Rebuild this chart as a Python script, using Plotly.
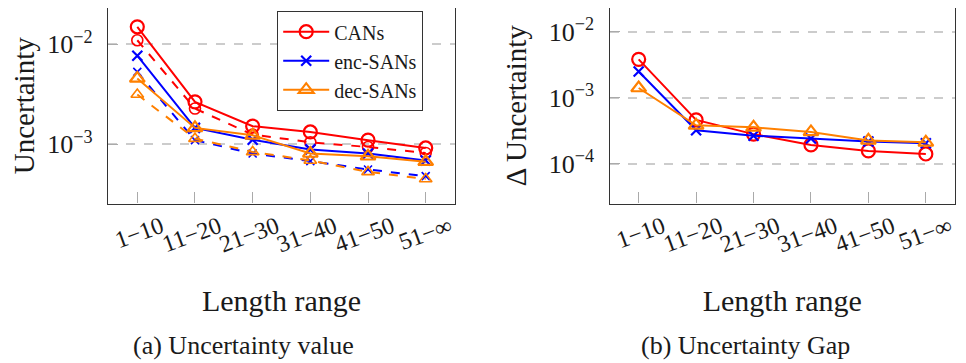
import math
import plotly.graph_objects as go

categories = ["1−10", "11−20", "21−30", "31−40", "41−50", "51−∞"]

# (a) Uncertainty value: solid and dashed series
cans_solid = [0.0150, 0.00266, 0.00152, 0.00133, 0.00110, 0.00092]
cans_dashed = [0.0110, 0.00228, 0.00125, 0.00105, 0.00094, 0.00082]
enc_solid = [0.0077, 0.00146, 0.00111, 0.00089, 0.00081, 0.00069]
enc_dashed = [0.0053, 0.00110, 0.00081, 0.00068, 0.00056, 0.00048]
dec_solid = [0.00456, 0.00146, 0.00123, 0.00081, 0.00076, 0.00067]
dec_dashed = [0.00315, 0.00114, 0.00084, 0.00069, 0.00053, 0.00045]

# (b) Uncertainty gap
cans_gap = [0.00380, 0.00046, 0.000280, 0.000192, 0.000156, 0.000140]
enc_gap = [0.00249, 0.000320, 0.000265, 0.000240, 0.000217, 0.000204]
dec_gap = [0.00140, 0.000380, 0.000355, 0.000302, 0.000225, 0.000210]

series_names = ["CANs", "enc-SANs", "dec-SANs"]
RED, BLUE, ORANGE = "rgb(255,0,0)", "rgb(0,0,255)", "rgb(255,128,0)"
FONT = "Liberation Serif, DejaVu Serif, serif"
TXT = "#1a1a1a"

styles = {
    "CANs": dict(color=RED, symbol="circle-open", size=13),
    "enc-SANs": dict(color=BLUE, symbol="x-thin-open", size=10),
    "dec-SANs": dict(color=ORANGE, symbol="triangle-up-open", size=13),
}

fig = go.Figure()

left = {"CANs": (cans_solid, cans_dashed), "enc-SANs": (enc_solid, enc_dashed),
        "dec-SANs": (dec_solid, dec_dashed)}
for name in series_names:
    st = styles[name]
    solid, dashed = left[name]
    fig.add_trace(go.Scatter(
        x=categories, y=solid, name=name, mode="lines+markers",
        line=dict(color=st["color"], width=2),
        marker=dict(symbol=st["symbol"], size=st["size"], color=st["color"],
                    line=dict(color=st["color"], width=2.2)),
        xaxis="x", yaxis="y", showlegend=True))
    fig.add_trace(go.Scatter(
        x=categories, y=dashed, name=name + " (dashed)", mode="lines+markers",
        line=dict(color=st["color"], width=2, dash="dash"),
        marker=dict(symbol=st["symbol"], size=st["size"] - 2, color=st["color"],
                    line=dict(color=st["color"], width=1.6)),
        xaxis="x", yaxis="y", showlegend=False))

right = {"CANs": cans_gap, "enc-SANs": enc_gap, "dec-SANs": dec_gap}
for name in series_names:
    st = styles[name]
    fig.add_trace(go.Scatter(
        x=categories, y=right[name], name=name, mode="lines+markers",
        line=dict(color=st["color"], width=2),
        marker=dict(symbol=st["symbol"], size=st["size"], color=st["color"],
                    line=dict(color=st["color"], width=2.2)),
        xaxis="x2", yaxis="y2", showlegend=False))

W, H = 966, 363
OFF = 8  # browser body margin
AX_COLOR = "#333333"
GRID = "#cccccc"

def xaxis_cfg(domain, anchor):
    return dict(
        domain=domain, anchor=anchor, type="category", range=[-0.508, 5.508],
        showline=True, linecolor=AX_COLOR, linewidth=1.2, mirror=True,
        ticks="inside", ticklen=11, tickcolor="#aaaaaa", tickwidth=1,
        tickangle=-20, ticklabelshift=24, ticklabelstandoff=-1,
        tickfont=dict(family=FONT, size=24, color=TXT),
        showgrid=False, zeroline=False,
        title=dict(text="Length range", font=dict(family=FONT, size=30, color=TXT),
                   standoff=33),
    )

def yaxis_cfg(domain, anchor, rng, vals, title, standoff):
    return dict(
        domain=domain, anchor=anchor, type="log", range=rng,
        tickvals=vals,
        ticktext=["10<sup>−%d</sup>" % round(-math.log10(v)) for v in vals],
        showline=True, linecolor=AX_COLOR, linewidth=1.2, mirror=True,
        ticks="inside", ticklen=10, tickcolor="#aaaaaa", tickwidth=1,
        ticklabelstandoff=9,
        tickfont=dict(family=FONT, size=26, color=TXT),
        showgrid=True, gridcolor=GRID, gridwidth=1.5, griddash="dash",
        zeroline=False,
        title=dict(text=title, font=dict(family=FONT, size=29, color=TXT),
                   standoff=standoff),
    )

y_dom = [1 - (203.5 - OFF) / H, 1.0]
fig.update_layout(
    width=W, height=H,
    margin=dict(l=0, r=0, t=0, b=0),
    paper_bgcolor="white", plot_bgcolor="white",
    font=dict(family=FONT, color=TXT),
    xaxis=xaxis_cfg([(108 - OFF) / W, (455 - OFF) / W], "y"),
    yaxis=yaxis_cfg(y_dom, "x", [-3.592, -1.636], [1e-3, 1e-2], "Uncertainty", 19),
    xaxis2=xaxis_cfg([(609.5 - OFF) / W, (955 - OFF) / W], "y2"),
    yaxis2=yaxis_cfg(y_dom, "x2", [-4.604, -1.642], [1e-4, 1e-3, 1e-2],
                     "Δ Uncertainty", 13),
    legend=dict(x=(277 - OFF) / W, y=1 - (11 - OFF) / H, xanchor="left", yanchor="top",
                bgcolor="white", bordercolor=AX_COLOR, borderwidth=1.2,
                font=dict(family=FONT, size=20, color=TXT),
                itemwidth=46, tracegroupgap=0),
    showlegend=True,
    annotations=[
        dict(text="(a) Uncertainty value", x=(243 - OFF) / W, y=1 - (345 - OFF) / H,
             xref="paper", yref="paper", showarrow=False, xanchor="center",
             yanchor="middle", font=dict(family=FONT, size=26, color=TXT)),
        dict(text="(b) Uncertainty Gap", x=(745 - OFF) / W, y=1 - (345 - OFF) / H,
             xref="paper", yref="paper", showarrow=False, xanchor="center",
             yanchor="middle", font=dict(family=FONT, size=26, color=TXT)),
    ],
)

fig.write_html("out.html")
